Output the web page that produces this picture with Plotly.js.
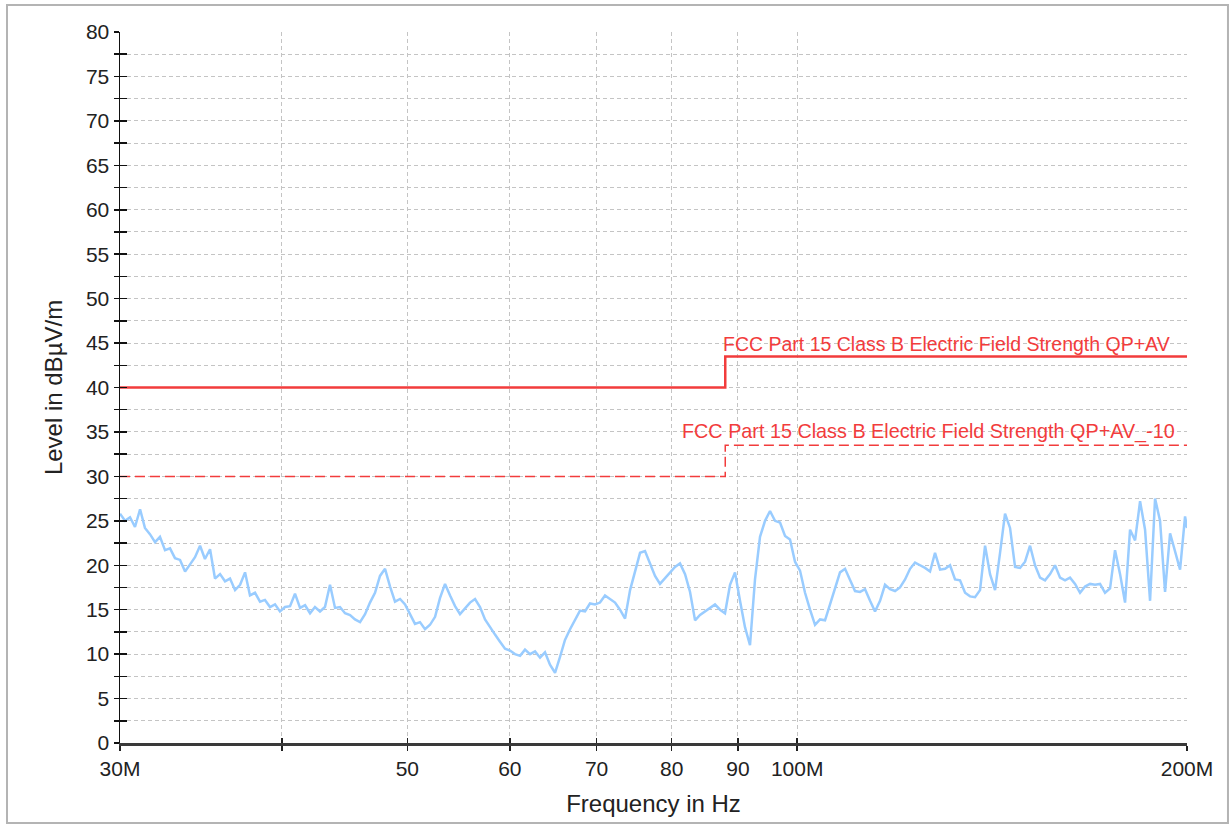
<!DOCTYPE html>
<html>
<head>
<meta charset="utf-8">
<script src="https://cdn.plot.ly/plotly-3.0.1.min.js"></script>
<style>html,body{margin:0;padding:0;background:#fff;}#chart{width:1231px;height:825px;}</style>
</head>
<body>
<div id="chart"></div>
<script>
// Measured spectrum (frequency in MHz, level in dBµV/m)
const freqMHz = [
30.00,30.27,30.54,30.81,31.09,31.36,31.64,31.93,32.21,32.50,
32.79,33.08,33.38,33.68,33.98,34.28,34.59,34.89,35.21,35.52,
35.84,36.16,36.48,36.81,37.14,37.47,37.80,38.14,38.48,38.82,
39.17,39.52,39.87,40.23,40.59,40.95,41.32,41.69,42.06,42.43,
42.81,43.19,43.58,43.97,44.36,44.76,45.16,45.56,45.97,46.38,
46.79,47.21,47.63,48.06,48.49,48.92,49.36,49.80,50.24,50.69,
51.14,51.60,52.06,52.53,52.99,53.47,53.95,54.43,54.91,55.40,
55.90,56.40,56.90,57.41,57.92,58.44,58.96,59.49,60.02,60.55,
61.10,61.64,62.19,62.75,63.31,63.87,64.44,65.02,65.60,66.18,
66.78,67.37,67.97,68.58,69.19,69.81,70.43,71.06,71.70,72.34,
72.98,73.64,74.30,74.96,75.63,76.30,76.98,77.67,78.36,79.06,
79.77,80.48,81.20,81.93,82.66,83.40,84.14,84.89,85.65,86.41,
87.19,87.96,88.75,89.54,90.34,91.15,91.96,92.78,93.61,94.45,
95.29,96.14,97.00,97.87,98.74,99.62,100.51,101.41,102.32,103.23,
104.15,105.08,106.02,106.97,107.92,108.89,109.86,110.84,111.83,112.83,
113.84,114.85,115.88,116.91,117.96,119.01,120.07,121.15,122.23,123.32,
124.42,125.53,126.65,127.78,128.93,130.08,131.24,132.41,133.59,134.79,
135.99,137.20,138.43,139.67,140.91,142.17,143.44,144.72,146.01,147.32,
148.63,149.96,151.30,152.65,154.01,155.39,156.78,158.18,159.59,161.01,
162.45,163.90,165.37,166.84,168.33,169.84,171.35,172.88,174.43,175.98,
177.56,179.14,180.74,182.36,183.99,185.63,187.29,188.96,190.65,192.35,
194.07,195.80,197.55,199.31,200.00
];
const levelDbuVm = [
25.8,25.0,25.4,24.3,26.3,24.2,23.5,22.6,23.2,21.7,
21.9,20.8,20.6,19.3,20.1,20.9,22.2,20.7,21.8,18.5,
19.0,18.2,18.5,17.2,17.8,19.2,16.6,16.9,15.9,16.1,
15.3,15.6,14.8,15.3,15.4,16.8,15.2,15.5,14.6,15.3,
14.8,15.3,17.8,15.2,15.3,14.6,14.4,13.9,13.6,14.5,
15.8,16.9,18.8,19.6,17.6,15.9,16.2,15.6,14.5,13.4,
13.6,12.8,13.3,14.2,16.3,17.9,16.6,15.4,14.5,15.1,
15.8,16.2,15.3,13.9,13.0,12.2,11.4,10.6,10.4,10.0,
9.8,10.5,10.0,10.3,9.6,10.2,8.8,7.9,9.7,11.6,
12.8,13.9,14.9,14.8,15.7,15.6,15.8,16.6,16.2,15.8,
15.0,14.0,17.2,19.4,21.4,21.6,20.2,18.8,17.9,18.5,
19.2,19.8,20.2,19.0,17.0,13.8,14.4,14.8,15.2,15.6,
15.0,14.6,17.8,19.2,16.0,13.0,11.0,18.4,23.2,25.0,
26.1,25.0,24.8,23.3,22.9,20.4,19.4,16.9,15.0,13.3,
13.9,13.8,15.6,17.5,19.2,19.6,18.4,17.1,17.0,17.3,
16.0,14.8,16.0,17.8,17.3,17.1,17.5,18.4,19.6,20.3,
20.0,19.7,19.3,21.4,19.5,19.6,20.0,18.4,18.3,16.9,
16.5,16.4,17.2,22.2,19.0,17.2,21.4,25.8,24.2,19.8,
19.7,20.4,22.2,20.0,18.6,18.3,19.0,20.0,18.6,18.3,
18.6,17.9,16.9,17.6,17.9,17.8,17.9,16.9,17.4,21.7,
19.0,15.8,24.0,22.8,27.2,24.0,16.0,27.5,25.0,17.0,
23.6,21.5,19.5,25.5,24.2
];

// Limit lines
const limitFreqMHz = [30, 88, 88, 200];
const limitQPAV = [40, 40, 43.5, 43.5];
const limitQPAVminus10 = [30, 30, 33.5, 33.5];
const limitNames = ["FCC Part 15 Class B Electric Field Strength QP+AV",
                    "FCC Part 15 Class B Electric Field Strength QP+AV_-10"];

// Ticks
const xTickVals = [30, 40, 50, 60, 70, 80, 90, 100, 200];
const xTickText = ["30M", "", "50", "60", "70", "80", "90", "100M", "200M"];
const yTickVals = [0,2.5,5,7.5,10,12.5,15,17.5,20,22.5,25,27.5,30,32.5,35,37.5,40,42.5,45,47.5,50,52.5,55,57.5,60,62.5,65,67.5,70,72.5,75,77.5,80];
const yTickText = ["0","","5","","10","","15","","20","","25","","30","","35","","40","","45","","50","","55","","60","","65","","70","","75","","80"];

const FONT = "Liberation Sans, Arial, sans-serif";
const red = "#f23c3c";
const xRange = [Math.log10(30), Math.log10(200)];

const traces = [
  {x: freqMHz, y: levelDbuVm, type: "scatter", mode: "lines",
   line: {color: "#99ccff", width: 2.5}, hoverinfo: "skip"},
  {x: limitFreqMHz, y: limitQPAV, type: "scatter", mode: "lines", xaxis: "x2", yaxis: "y2",
   line: {color: red, width: 2.5}, name: limitNames[0]},
  {x: limitFreqMHz, y: limitQPAVminus10, type: "scatter", mode: "lines", xaxis: "x2", yaxis: "y2",
   line: {color: red, width: 1.5, dash: "10px,5px"}, name: limitNames[1]}
];

const gridStyle = {showgrid: true, gridcolor: "#c4c4c4", gridwidth: 1, griddash: "4px,3px", zeroline: false};

const layout = {
  width: 1231, height: 825,
  margin: {l: 120, r: 44, t: 32, b: 82, pad: 0},
  paper_bgcolor: "#ffffff", plot_bgcolor: "#ffffff",
  showlegend: false,
  font: {family: FONT, color: "#222"},
  xaxis: Object.assign({
    type: "log", range: xRange, automargin: false,
    tickmode: "array", tickvals: xTickVals, ticktext: xTickText,
    ticks: "outside", ticklen: 5, tickwidth: 1.5, tickcolor: "#222",
    ticklabelstandoff: 0,
    showline: true, linecolor: "#3a3a3a", linewidth: 2.5,
    tickfont: {family: FONT, size: 21, color: "#222"},
    title: {text: "Frequency in Hz", font: {family: FONT, size: 24, color: "#222"}, standoff: 17}
  }, gridStyle),
  yaxis: Object.assign({
    range: [0, 80], automargin: false,
    tickmode: "array", tickvals: yTickVals, ticktext: yTickText,
    ticks: "outside", ticklen: 5, tickwidth: 1.5, tickcolor: "#111",
    showline: true, linecolor: "#111", linewidth: 1.5,
    tickfont: {family: FONT, size: 21, color: "#222"},
    title: {text: "Level in dBµV/m", font: {family: FONT, size: 24, color: "#222"}, standoff: 16}
  }, gridStyle),
  xaxis2: {
    type: "log", range: xRange, overlaying: "x", anchor: "y", side: "bottom",
    tickmode: "array", tickvals: xTickVals, ticks: "inside", ticklen: 5, tickwidth: 1.5, tickcolor: "#222",
    showticklabels: false, showgrid: false, showline: false, zeroline: false
  },
  yaxis2: {
    range: [0, 80], overlaying: "y", anchor: "x", side: "left",
    tickmode: "array", tickvals: yTickVals, ticks: "inside", ticklen: 7, tickwidth: 1.5, tickcolor: "#111",
    showticklabels: false, showgrid: false, showline: false, zeroline: false
  },
  annotations: [
    {xref: "x", yref: "y", x: Math.log10(limitFreqMHz[1]), y: limitQPAV[2],
     text: limitNames[0], showarrow: false, xanchor: "left", yanchor: "bottom", xshift: -4, yshift: -1,
     font: {family: FONT, size: 19.5, color: red}},
    {xref: "x", yref: "y", x: Math.log10(limitFreqMHz[3]), y: limitQPAVminus10[2],
     text: limitNames[1], showarrow: false, xanchor: "right", yanchor: "bottom", xshift: -10, yshift: 0,
     font: {family: FONT, size: 19.8, color: red}}
  ],
  shapes: [
    {type: "rect", xref: "paper", yref: "paper", x0: -0.1059, x1: 1.0384, y0: -0.1125, y1: 1.038,
     line: {color: "#b4b4b4", width: 2}, fillcolor: "rgba(0,0,0,0)", layer: "below"}
  ]
};

Plotly.newPlot("chart", traces, layout, {displayModeBar: false, staticPlot: true});
</script>
</body>
</html>
